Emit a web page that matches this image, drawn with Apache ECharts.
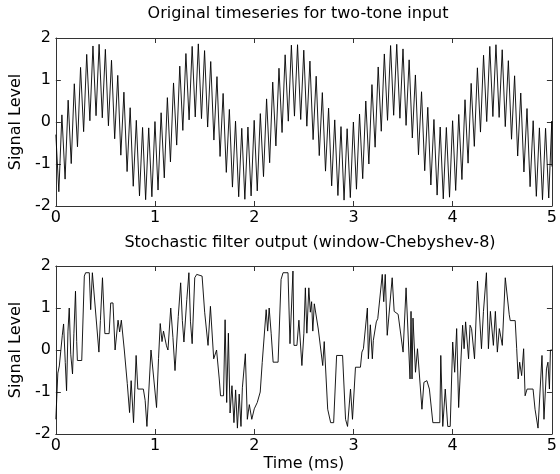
<!DOCTYPE html>
<html><head><meta charset="utf-8">
<script src="https://cdn.jsdelivr.net/npm/echarts@6/dist/echarts.min.js"></script>
<style>html,body{margin:0;padding:0;background:#fff}#c{width:560px;height:474px}</style>
</head><body><div id="c"></div>
<script>
// ---------- data ----------
const xTicks = [0, 1, 2, 3, 4, 5];
const yTicks = [-2, -1, 0, 1, 2];
const topTitle = 'Original timeseries for two-tone input';
const bottomTitle = 'Stochastic filter output (window-Chebyshev-8)';
const yLabel = 'Signal Level';
const xLabel = 'Time (ms)';

// original two-tone input (sample times in ms, values)
const topTime = [0,
 0.03,0.061,0.093,0.124,0.155,0.186,0.218,0.249,0.28,0.311,0.343,0.374,0.405,0.436,0.468,0.499,0.53,0.561,0.593,0.624,0.655,0.686,0.718,0.749,0.78,0.811,0.843,0.874,0.905,0.936,0.968,0.999,
 1.03,1.061,1.093,1.124,1.155,1.186,1.218,1.249,1.28,1.311,1.343,1.374,1.405,1.436,1.468,1.499,1.53,1.561,1.593,1.624,1.655,1.686,1.718,1.749,1.78,1.811,1.843,1.874,1.905,1.936,1.968,1.999,
 2.03,2.061,2.093,2.124,2.155,2.186,2.218,2.249,2.28,2.311,2.343,2.374,2.405,2.436,2.468,2.499,2.53,2.561,2.593,2.624,2.655,2.686,2.718,2.749,2.78,2.811,2.843,2.874,2.905,2.936,2.968,2.999,
 3.03,3.061,3.093,3.124,3.155,3.186,3.218,3.249,3.28,3.311,3.343,3.374,3.405,3.436,3.468,3.499,3.53,3.561,3.593,3.624,3.655,3.686,3.718,3.749,3.78,3.811,3.843,3.874,3.905,3.936,3.968,3.999,
 4.03,4.061,4.093,4.124,4.155,4.186,4.218,4.249,4.28,4.311,4.343,4.374,4.405,4.436,4.468,4.499,4.53,4.561,4.593,4.624,4.655,4.686,4.718,4.749,4.78,4.811,4.843,4.874,4.905,4.936,4.968,4.999,
 5];
const topSignal = [-0.3,
 -1.66,0.17,-1.36,0.52,-0.99,0.91,-0.59,1.30,-0.23,1.61,0.03,1.81,0.15,1.85,0.10,1.73,-0.09,1.47,-0.40,1.11,-0.79,0.71,-1.18,0.34,-1.53,0.04,-1.76,-0.13,-1.85,-0.14,-1.78,0.01,
 -1.62,0.22,-1.33,0.58,-0.95,0.93,-0.55,1.33,-0.20,1.63,0.05,1.80,0.12,1.86,0.08,1.70,-0.12,1.44,-0.43,1.08,-0.82,0.68,-1.20,0.30,-1.55,0.02,-1.78,-0.15,-1.84,-0.12,-1.76,0.04,
 -1.64,0.20,-1.30,0.55,-0.97,0.95,-0.57,1.28,-0.25,1.60,0.02,1.83,0.14,1.84,0.06,1.71,-0.10,1.45,-0.42,1.09,-0.80,0.70,-1.17,0.33,-1.52,0.05,-1.75,-0.11,-1.86,-0.16,-1.80,0.00,
 -1.60,0.19,-1.35,0.50,-1.00,0.89,-0.60,1.31,-0.22,1.62,0.04,1.82,0.16,1.85,0.09,1.74,-0.08,1.48,-0.38,1.12,-0.78,0.72,-1.16,0.35,-1.50,0.06,-1.74,-0.12,-1.83,-0.13,-1.79,0.03,
 -1.63,0.18,-1.37,0.53,-0.98,0.92,-0.58,1.29,-0.24,1.59,0.01,1.80,0.13,1.84,0.11,1.72,-0.11,1.46,-0.41,1.10,-0.81,0.69,-1.19,0.32,-1.54,0.03,-1.77,-0.14,-1.85,-0.15,-1.81,0.02,
 -1.06];

// stochastic filter output (times in ms, values)
const botTime = [
 0,0.02,0.035,0.05,0.065,0.078,0.095,0.108,0.122,0.135,
 0.15,0.168,0.182,0.198,0.21,0.217,0.261,0.287,0.3,0.337,
 0.351,0.368,0.387,0.434,0.449,0.47,0.494,0.537,0.553,0.576,
 0.597,0.627,0.643,0.66,0.69,0.72,0.743,0.759,0.783,0.809,
 0.826,0.882,0.9,0.918,0.93,0.959,0.975,1.015,1.035,1.052,
 1.07,1.085,1.115,1.13,1.158,1.18,1.201,1.234,1.258,1.275,
 1.291,1.32,1.341,1.357,1.374,1.4,1.42,1.474,1.5,1.534,
 1.558,1.591,1.62,1.647,1.66,1.69,1.706,1.722,1.739,1.756,
 1.775,1.795,1.812,1.83,1.848,1.866,1.88,1.91,1.93,1.95,
 1.975,2,2.03,2.06,2.08,2.12,2.135,2.15,2.17,2.19,
 2.24,2.27,2.29,2.34,2.36,2.39,2.4,2.43,2.45,2.48,
 2.5,2.515,2.53,2.55,2.565,2.578,2.59,2.605,2.625,2.645,
 2.69,2.705,2.74,2.77,2.8,2.83,2.89,2.92,2.94,2.97,
 2.99,3.02,3.07,3.085,3.1,3.14,3.15,3.17,3.19,3.2,
 3.23,3.245,3.29,3.305,3.32,3.34,3.39,3.41,3.45,3.5,
 3.53,3.57,3.58,3.59,3.6,3.625,3.645,3.69,3.71,3.74,
 3.765,3.8,3.87,3.88,3.9,3.925,3.95,3.975,4,4.02,
 4.04,4.06,4.1,4.115,4.13,4.16,4.175,4.19,4.22,4.25,
 4.27,4.29,4.31,4.34,4.36,4.38,4.41,4.43,4.45,4.47,
 4.5,4.53,4.57,4.58,4.63,4.645,4.66,4.675,4.695,4.715,
 4.73,4.75,4.81,4.83,4.86,4.88,4.9,4.92,4.945,4.96,
 4.975,4.985,5];
const botSignal = [
 -1.65,-0.55,-0.38,-0.35,0.35,0.62,-0.30,-0.97,0.45,1.00,
 -0.10,-0.57,0.40,1.40,0.20,-0.25,-0.25,1.76,1.84,1.84,
 0.96,1.84,1.84,-0.05,0.70,1.72,0.39,0.39,1.12,1.12,
 0.00,0.71,0.43,0.71,0.00,-0.80,-1.49,-0.73,-1.73,-0.13,
 -0.93,-0.93,-1.20,-1.82,-1.82,0.00,0.00,-1.37,-0.20,0.63,
 0.20,0.45,0.10,0.00,1.00,0.30,-0.49,0.80,1.60,0.70,
 0.19,1.20,1.84,0.67,0.15,1.72,1.80,1.76,0.90,0.11,
 1.04,-0.21,0.00,-0.69,-1.09,-1.09,0.72,-1.25,0.40,-1.50,
 -0.85,-1.73,-0.95,-1.86,-1.05,-1.82,-0.90,-0.09,-1.65,-1.30,
 -1.65,-1.40,-1.25,-1.00,-0.30,0.96,0.45,1.00,0.40,-0.29,
 -0.29,1.68,1.84,1.84,0.15,1.88,0.11,0.11,0.71,-0.37,
 0.40,1.48,0.40,1.48,0.90,1.15,0.45,1.10,1.10,0.50,
 -0.37,0.20,-1.41,-1.73,-1.73,-0.13,-0.13,-1.65,-1.82,-0.93,
 -1.65,-0.41,-0.41,-0.05,0.03,1.00,-0.21,0.60,-0.21,0.23,
 0.67,0.75,1.80,1.15,1.80,0.35,1.72,0.92,0.85,-0.05,
 1.48,-0.69,0.92,-0.69,0.76,-0.53,0.03,-1.41,-0.77,-0.73,
 -0.93,-1.73,-1.73,-0.13,-1.82,-0.93,-1.82,-1.82,0.19,-0.53,
 0.51,-1.37,0.59,0.03,0.67,-0.21,0.59,0.51,-0.21,1.64,
 1.68,0.03,0.92,1.84,0.03,0.92,0.11,0.92,-0.05,0.51,
 0.11,1.72,0.84,0.70,0.70,0.03,-0.69,-0.29,-0.61,0.03,
 -1.09,-0.93,-0.93,-1.41,-1.86,-1.86,-0.13,-1.65,-0.45,-0.29,
 -0.93,0.00,0.00];

// ---------- chart ----------
const FONT = '"DejaVu Sans", sans-serif';
const INK = '#000';
const AXIS = '#333';
const chart = echarts.init(document.getElementById('c'), null, {renderer: 'canvas'});

const xMin = xTicks[0], xMax = xTicks[xTicks.length - 1], xStep = xTicks[1] - xTicks[0];
const yMin = yTicks[0], yMax = yTicks[yTicks.length - 1], yStep = yTicks[1] - yTicks[0];
const axLine = {show: true, onZero: false, lineStyle: {color: AXIS, width: 1}};
const axTick = {show: true, inside: true, length: 5, lineStyle: {color: AXIS, width: 1}};
const lblStyle = {fontFamily: FONT, fontSize: 16, color: INK};

const grids = [
  {left: 55, top: 38, width: 501, height: 168},
  {left: 55, top: 266, width: 501, height: 168}
];
const xAxes = [], yAxes = [];
grids.forEach((g, gi) => {
  xAxes.push({gridIndex: gi, type: 'value', min: xMin, max: xMax, interval: xStep, position: 'bottom',
    axisLine: axLine, axisTick: axTick, splitLine: {show: false},
    axisLabel: Object.assign({margin: 4}, lblStyle),
    name: gi === 1 ? xLabel : '', nameLocation: 'middle', nameGap: 22,
    nameTextStyle: lblStyle});
  xAxes.push({gridIndex: gi, type: 'value', min: xMin, max: xMax, interval: xStep, position: 'top',
    axisLine: axLine, axisTick: axTick, splitLine: {show: false}, axisLabel: {show: false}});
  yAxes.push({gridIndex: gi, type: 'value', min: yMin, max: yMax, interval: yStep, position: 'left',
    axisLine: axLine, axisTick: axTick, splitLine: {show: false},
    axisLabel: Object.assign({margin: 5}, lblStyle),
    name: yLabel, nameLocation: 'middle', nameGap: 25, nameRotate: 90,
    nameTextStyle: lblStyle});
  yAxes.push({gridIndex: gi, type: 'value', min: yMin, max: yMax, interval: yStep, position: 'right',
    axisLine: axLine, axisTick: axTick, splitLine: {show: false}, axisLabel: {show: false}});
});

chart.setOption({
  animation: false,
  backgroundColor: '#fff',
  grid: grids,
  xAxis: xAxes,
  yAxis: yAxes,
  graphic: [
    {type: 'text', x: 298, y: 14, style: {text: topTitle, font: '16px ' + FONT, fill: INK, textAlign: 'center', textVerticalAlign: 'middle'}},
    {type: 'text', x: 310, y: 243, style: {text: bottomTitle, font: '16px ' + FONT, fill: INK, textAlign: 'center', textVerticalAlign: 'middle'}}
  ],
  series: [
    {type: 'line', xAxisIndex: 0, yAxisIndex: 0, showSymbol: false, symbol: 'none',
      lineStyle: {color: INK, width: 0.9}, data: topTime.map((t, i) => [t, topSignal[i]])},
    {type: 'line', xAxisIndex: 2, yAxisIndex: 2, showSymbol: false, symbol: 'none',
      lineStyle: {color: INK, width: 0.9}, data: botTime.map((t, i) => [t, botSignal[i]])}
  ]
});
</script></body></html>
